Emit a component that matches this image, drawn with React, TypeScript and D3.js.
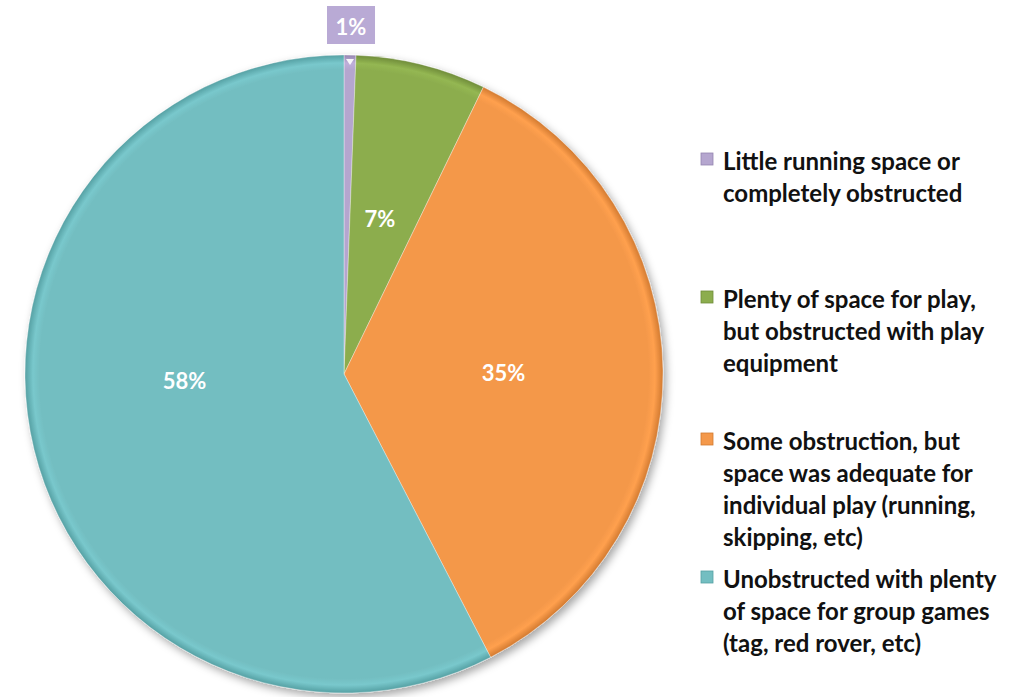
import React from "react";
import * as d3 from "d3";

const categories = [
  "Little running space or completely obstructed",
  "Plenty of space for play, but obstructed with play equipment",
  "Some obstruction, but space was adequate for individual play (running, skipping, etc)",
  "Unobstructed with plenty of space for group games (tag, red rover, etc)",
];
const values = [0.6, 6.6, 35.2, 57.6];
const labelAngleNudgeDeg = [0, -1, 0, 11.5];
const legendLines = [
  ["Little running space or", "completely obstructed"],
  ["Plenty of space for play,", "but obstructed with play", "equipment"],
  ["Some obstruction, but", "space was adequate for", "individual play (running,", "skipping, etc)"],
  ["Unobstructed with plenty", "of space for group games", "(tag, red rover, etc)"],
];
const colors = ["#B5A6CF", "#8CAD4E", "#F4984A", "#73BEC1"];
const rimColors = ["#9585B0", "#6F8C3A", "#D27A30", "#55A0A3"];

const W = 1026;
const H = 697;
const cx = 344;
const cy = 374;
const R = 319;
const legendX = 723;
const legendFirstY = [160, 298, 440, 578];
const lineH = 32;
const FONT = "Lato, 'Open Sans', sans-serif";

export default function App() {
  const pie = d3.pie<number>().sort(null).value((d) => d)(values);
  const arc = d3.arc<d3.PieArcDatum<number>>().innerRadius(0).outerRadius(R);
  const labels = values.map((v) => `${Math.round(v)}%`);

  return (
    <div style={{ position: "absolute", left: 0, top: 0 }}>
      <svg width={W} height={H} style={{ display: "block", background: "#fff" }}>
        <defs>
          <filter id="shadow" x="-10%" y="-10%" width="120%" height="120%">
            <feDropShadow dx="3" dy="4" stdDeviation="4" floodColor="#000" floodOpacity="0.35" />
          </filter>
          {colors.map((c, i) => (
            <radialGradient key={i} id={`g${i}`} gradientUnits="userSpaceOnUse" cx={0} cy={0} r={R}>
              <stop offset="0" stopColor={c} />
              <stop offset="0.955" stopColor={c} />
              <stop offset="0.975" stopColor={d3.color(c)!.brighter(0.15).formatHex()} />
              <stop offset="1" stopColor={rimColors[i]} />
            </radialGradient>
          ))}
        </defs>
        <g transform={`translate(${cx},${cy})`}>
          <g filter="url(#shadow)">
            {pie.map((p, i) => (
              <path key={i} d={arc(p) || ""} fill={`url(#g${i})`} stroke="#ffffff" strokeOpacity={0.35} strokeWidth={1} />
            ))}
          </g>
          {pie.map((p, i) => {
            if (i === 0) return null;
            const a = (p.startAngle + p.endAngle) / 2 + (labelAngleNudgeDeg[i] * Math.PI) / 180;
            const r = R * 0.5;
            const x = Math.sin(a) * r;
            const y = -Math.cos(a) * r;
            return (
              <text key={i} x={x} y={y} textAnchor="middle" dominantBaseline="central" fill="#fff"
                fontFamily={FONT} fontWeight="bold" fontSize={22}>
                {labels[i]}
              </text>
            );
          })}
        </g>
        {(() => {
          const p = pie[0];
          const a = (p.startAngle + p.endAngle) / 2;
          const tx = cx + Math.sin(a) * R;
          return (
            <g>
              <rect x={tx - 23} y={6} width={48} height={38} fill="#B9AAD5" />
              <text x={tx + 1} y={26} textAnchor="middle" dominantBaseline="central" fill="#fff"
                fontFamily={FONT} fontWeight="bold" fontSize={22}>
                {labels[0]}
              </text>
              <path d={`M${tx - 4},${cy - R + 4}L${tx + 4},${cy - R + 4}L${tx},${cy - R + 10}Z`} fill="#fff" opacity={0.9} />
            </g>
          );
        })()}
        {legendLines.map((lines, i) => (
          <g key={i}>
            <title>{categories[i]}</title>
            <rect x={701} y={legendFirstY[i] - 7} width={12} height={12} fill={colors[i]} stroke={rimColors[i]} strokeWidth={0.8} />
            {lines.map((ln, j) => (
              <text key={j} x={legendX} y={legendFirstY[i] + j * lineH} dominantBaseline="central"
                fontFamily={FONT} fontWeight="bold" fontSize={24} fill="#111">
                {ln}
              </text>
            ))}
          </g>
        ))}
      </svg>
    </div>
  );
}
